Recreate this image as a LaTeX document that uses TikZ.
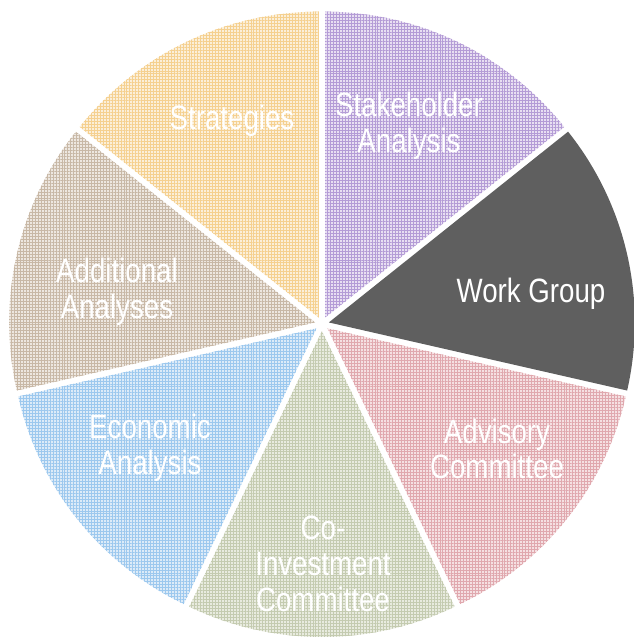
\documentclass[tikz,border=0pt]{standalone}
\usepackage{fontspec}
\setmainfont{Liberation Sans}[FakeStretch=0.82]
\usetikzlibrary{patterns.meta,calc}

\definecolor{shbg}{HTML}{E8DFF2}\definecolor{shln}{HTML}{B49CD6}
\definecolor{adbg}{HTML}{F5E0E2}\definecolor{adln}{HTML}{E0A8AE}
\definecolor{cibg}{HTML}{E8EBDF}\definecolor{ciln}{HTML}{C4CBB0}
\definecolor{ecbg}{HTML}{DCEBF8}\definecolor{ecln}{HTML}{9CC8EE}
\definecolor{aabg}{HTML}{EDE7E0}\definecolor{aaln}{HTML}{C8B8A6}
\definecolor{stbg}{HTML}{FBEFD9}\definecolor{stln}{HTML}{F5D08F}
\definecolor{wgfill}{HTML}{5F5F5F}

\begin{document}
\begin{tikzpicture}[x=0.025cm,y=0.025cm,
   checked/.style={fill=#1bg,
      postaction={pattern={Lines[angle=0,distance=2.1pt,line width=0.7pt]},pattern color=#1ln},
      postaction={pattern={Lines[angle=90,distance=2.1pt,line width=0.7pt]},pattern color=#1ln}},
   slicetext/.style={align=center,text=white,font=\fontsize{24}{25.5}\selectfont}]
   \useasboundingbox (0,0) rectangle (633,638);
   \coordinate (c) at (322,314);

   % slices
   \path[checked=sh] ($(c)+(64.29:7)$) coordinate (shc) -- ++(38.57:306) arc[start angle=38.57,end angle=90,radius=306] -- cycle;
   \fill[wgfill] ($(c)+(12.86:7)$) coordinate (wgc) -- ++(-12.86:306) arc[start angle=-12.86,end angle=38.57,radius=306] -- cycle;
   \path[checked=ad] ($(c)+(-38.57:7)$) coordinate (adc) -- ++(-64.29:306) arc[start angle=-64.29,end angle=-12.86,radius=306] -- cycle;
   \path[checked=ci] ($(c)+(-90:7)$) coordinate (cic) -- ++(-115.71:306) arc[start angle=-115.71,end angle=-64.29,radius=306] -- cycle;
   \path[checked=ec] ($(c)+(-141.43:7)$) coordinate (ecc) -- ++(-167.14:306) arc[start angle=-167.14,end angle=-115.71,radius=306] -- cycle;
   \path[checked=aa] ($(c)+(167.14:7)$) coordinate (aac) -- ++(141.43:306) arc[start angle=141.43,end angle=192.86,radius=306] -- cycle;
   \path[checked=st] ($(c)+(115.71:7)$) coordinate (stc) -- ++(90:306) arc[start angle=90,end angle=141.43,radius=306] -- cycle;

   % labels
   \node[slicetext] (sh) at (409,512) {Stakeholder\\Analysis};
   \node[slicetext] (wg) at (531,344) {Work Group};
   \node[slicetext] (ad) at (497,189) {Advisory\\Committee};
   \node[slicetext] (ci) at (323,74) {Co-\\Investment\\Committee};
   \node[slicetext] (ec) at (150,190) {Economic\\Analysis};
   \node[slicetext] (aa) at (117,346) {Additional\\Analyses};
   \node[slicetext] (st) at (232,517) {Strategies};

\end{tikzpicture}
\end{document}
